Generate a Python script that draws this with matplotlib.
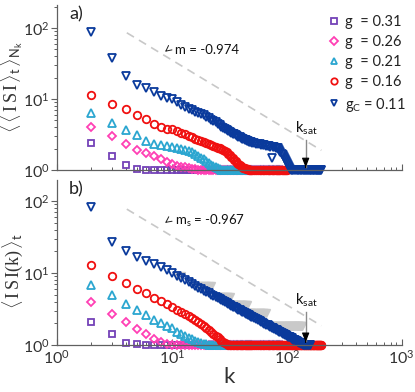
import numpy as np
import matplotlib
matplotlib.use("Agg")
import matplotlib.pyplot as plt

plt.rcParams['font.family'] = ['Lato', 'DejaVu Sans']
plt.rcParams['mathtext.fontset'] = 'custom'
plt.rcParams['mathtext.rm'] = 'Liberation Serif'
plt.rcParams['mathtext.sf'] = 'Lato'
plt.rcParams['mathtext.it'] = 'Lato:italic'

# k grid: every k up to 50, every second k after that
k = np.array(list(range(2, 51)) + list(range(52, 201, 2)))

labels = ['g  = 0.31', 'g  = 0.26', 'g  = 0.21', 'g  = 0.16', r'g$_\mathsf{C}$ = 0.11']
colors = ['#7442b8', '#ff3fb4', '#2ba6d0', '#f01010', '#0a3a9c']
markers = ['s', 'D', '^', 'o', 'v']
msizes = [4.4, 4.4, 5.4, 5.4, 5.8]

# panel a) <<ISI>_t>_Nk : decaying head values, then flat at 1 up to k_end
purple_a = [2.38, 1.57, 1.2, 1.04, 1.02, 1.01]
pink_a = [4.07, 3.04, 2.32, 1.95, 1.72, 1.57, 1.43, 1.31, 1.22, 1.16, 1.12, 1.09,
          1.06, 1.04, 1.03, 1.02, 1.01]
cyan_a = [6.3, 4.63, 3.66, 3.11, 2.6, 2.34, 2.25, 2.2, 2.1, 2.05, 2.0, 1.92, 1.85,
          1.78, 1.68, 1.58, 1.5, 1.42, 1.35, 1.28, 1.2, 1.15, 1.1, 1.06, 1.03, 1.01]
red_a = [11.4, 8.5, 7.2, 5.95, 5.2, 4.5, 4.05, 3.8, 3.75, 3.55, 3.35, 3.2, 3.05, 2.9,
         2.78, 2.68, 2.58, 2.5, 2.42, 2.34, 2.28, 2.22, 2.15, 2.08, 2.02, 1.96, 1.9,
         1.85, 1.78, 1.7, 1.62, 1.54, 1.47, 1.4, 1.33, 1.27, 1.22, 1.18, 1.14, 1.11,
         1.08, 1.06, 1.05, 1.04, 1.03, 1.02, 1.01]
blue_a = [87, 38, 21, 15.7, 14.4, 12.7, 11.0, 10.5, 9.9, 9.0, 8.2, 7.7, 7.3, 6.95,
          6.65, 6.4, 6.15, 5.9, 5.65, 5.4, 5.15, 4.9, 4.7, 4.5, 4.3, 4.1, 3.95, 3.8,
          3.7, 3.58, 3.46, 3.36, 3.27, 3.18, 3.1, 3.02, 2.95, 2.89, 2.83, 2.77, 2.72,
          2.67, 2.64, 2.6, 2.56, 2.53, 2.5, 2.47, 2.44,
          2.4, 2.37, 2.34, 2.31, 2.28, 2.25, 2.23, 2.21, 2.19, 2.17, 2.15, 1.46, 2.11,
          2.09, 2.07, 2.06, 2.02, 1.93, 1.8, 1.7, 1.62, 1.52, 1.42, 1.34, 1.26, 1.17,
          1.09, 1.04, 1.01]
end_a = [40, 90, 90, 100, 200]

# panel b) <ISI(k)>_t
purple_b = [2.07, 1.41, 1.05, 1.02]
pink_b = [3.92, 2.69, 2.07, 1.67, 1.41, 1.21, 1.09, 1.03, 1.01]
cyan_b = [6.8, 4.95, 3.71, 3.06, 2.61, 2.22, 2.0, 1.84, 1.7, 1.53, 1.42, 1.33, 1.26,
          1.2, 1.15, 1.11, 1.07, 1.04, 1.02, 1.01]
red_b = [12.9, 9.1, 7.2, 6.0, 5.2, 4.55, 4.05, 3.65, 3.35, 3.1, 2.9, 2.72, 2.53, 2.36,
         2.2, 2.06, 1.93, 1.82, 1.72, 1.62, 1.52, 1.43, 1.35, 1.28, 1.21, 1.15, 1.1,
         1.06, 1.03, 1.01]
blue_b = [83, 27, 20, 16.9, 14.7, 13.3, 12.0, 10.9,
          9.9, 9.11, 8.45, 7.88, 7.39, 6.96, 6.58, 6.24, 5.94, 5.66, 5.42, 5.19, 4.99,
          4.8, 4.62, 4.46, 4.31, 4.17, 4.04, 3.92, 3.81, 3.7, 3.6, 3.5, 3.41, 3.33,
          3.25, 3.17, 3.1, 3.03, 2.96, 2.9, 2.84, 2.78, 2.73, 2.68, 2.62, 2.58, 2.53,
          2.48, 2.44,
          2.36, 2.28, 2.21, 2.14, 2.08, 2.02, 1.97, 1.92, 1.87, 1.82, 1.78, 1.74, 1.7,
          1.66, 1.62, 1.59, 1.55, 1.52, 1.49, 1.46, 1.44, 1.41, 1.38, 1.36, 1.34, 1.31,
          1.29, 1.27, 1.25, 1.23, 1.21, 1.19, 1.17, 1.16, 1.14, 1.12, 1.11, 1.09, 1.08,
          1.06, 1.05, 1.035, 1.02, 1.01]
end_b = [40, 90, 90, 200, 160]

# gray step levels behind g_C in panel b: (k from, k to, value)
gray_steps = [(11, 12, 8.94), (16, 22, 6.5), (24, 32, 4.64), (32, 45, 3.59),
              (44, 67, 2.74), (70, 137, 1.84)]

# fitted slopes (dashed guides)
fit_k = [4.06, 200]
fit_a = [86, 1.9]
fit_b = [77, 1.85]
k_sat = 146


def series(head, k_end):
    n = np.sum(k <= k_end)
    y = np.ones(n)
    y[:len(head)] = head
    return k[:n], y


fig = plt.figure(figsize=(4.15, 3.92), dpi=100)
ax_a = fig.add_axes([0.137, 0.566, 0.831, 0.421])
ax_b = fig.add_axes([0.137, 0.12, 0.831, 0.421])

for ax in (ax_a, ax_b):
    ax.set_xscale('log')
    ax.set_yscale('log')
    ax.set_xlim(1, 1000)
    for s in ('top', 'right'):
        ax.spines[s].set_visible(False)
    for s in ('left', 'bottom'):
        ax.spines[s].set_color('#606060')
        ax.spines[s].set_linewidth(0.9)
    ax.tick_params(axis='y', which='both', direction='out', colors='#606060',
                   labelcolor='#333333', labelsize=11.5, pad=1)
    ax.tick_params(axis='x', which='both', direction='in', colors='#606060',
                   labelcolor='#333333', labelsize=11.5, pad=3)
    ax.tick_params(which='major', length=4, width=0.8)
    ax.tick_params(which='minor', length=2.5, width=0.7)

ax_a.set_ylim(1, 211)
ax_b.set_ylim(1, 196)
ax_a.set_xticklabels([])

# panel a
heads_a = [purple_a, pink_a, cyan_a, red_a, blue_a]
for head, k_end, c, m, ms, lab in zip(heads_a, end_a, colors, markers, msizes, labels):
    kk, yy = series(head, k_end)
    ax_a.plot(kk, yy, ls='none', marker=m, ms=ms, mfc='none', mec=c, mew=1.3,
              label=lab, clip_on=False)

ax_a.plot(fit_k, fit_a, ls=(0, (5, 3.5)), color='#c8c8c8', lw=1.2, zorder=1)
ax_a.annotate('', xy=(8.35, 44), xytext=(9.4, 51),
              arrowprops=dict(arrowstyle='->', lw=0.7, color='#222222'))
ax_a.text(10.6, 49, 'm = -0.974', fontsize=9.5, va='center', color='#111111')

# panel b
for kk0, kk1, v in gray_steps:
    kk = k[(k >= kk0) & (k <= kk1)]
    ax_b.plot(kk, np.full(len(kk), v), ls='none', marker='v', ms=5.8,
              mfc='#c9c9c9', mec='#c9c9c9', mew=1.0, zorder=1.5)

heads_b = [purple_b, pink_b, cyan_b, red_b, blue_b]
for head, k_end, c, m, ms in zip(heads_b, end_b, colors, markers, msizes):
    kk, yy = series(head, k_end)
    ax_b.plot(kk, yy, ls='none', marker=m, ms=ms, mfc='none', mec=c, mew=1.3,
              clip_on=False)

ax_b.plot(fit_k, fit_b, ls=(0, (5, 3.5)), color='#c8c8c8', lw=1.2, zorder=1)
ax_b.annotate('', xy=(8.35, 47), xytext=(9.4, 54),
              arrowprops=dict(arrowstyle='->', lw=0.7, color='#222222'))
ax_b.text(10.6, 52, r'm$_\mathsf{s}$ = -0.967', fontsize=9.5, va='center',
          color='#111111')

# k_sat markers
for ax, top, ytxt in ((ax_a, 2.64, 2.9), (ax_b, 2.9, 3.2)):
    ax.plot([k_sat, k_sat], [top, 1.12], color='#8a8a8a', lw=1.0, zorder=6,
            clip_on=False)
    ax.annotate('', xy=(k_sat, 1.0), xytext=(k_sat, 1.2),
                arrowprops=dict(arrowstyle='-|>,head_length=0.55,head_width=0.22',
                                color='black', lw=0.8), zorder=7)
    ax.text(k_sat * 1.02, ytxt, r'k$_\mathsf{sat}$', fontsize=10.5, ha='center',
            va='bottom', color='#111111')

ax_a.text(0.035, 0.99, 'a)', transform=ax_a.transAxes, fontsize=13,
          va='top', ha='left', color='#222222')
ax_b.text(0.035, 0.99, 'b)', transform=ax_b.transAxes, fontsize=13,
          va='top', ha='left', color='#222222')

ax_a.set_ylabel(r'$\langle\,\langle\, \mathrm{I\,S\,I}\,\rangle_{\mathsf{t}}\,\rangle_{\mathsf{N}_{\mathsf{k}}}$',
                fontsize=13, color='#333333')
ax_b.set_ylabel(r'$\langle\, \mathrm{I\,S\,I(k)}\,\rangle_{\mathsf{t}}$',
                fontsize=13, color='#333333')
ax_a.yaxis.set_label_coords(-0.093, 0.5)
ax_b.yaxis.set_label_coords(-0.093, 0.45)
ax_b.set_xlabel('k', fontsize=16, color='#333333', labelpad=0)

ax_a.legend(loc='upper right', bbox_to_anchor=(1.03, 0.975), frameon=False,
            fontsize=10.5, handlelength=0.6, handletextpad=0.5, labelspacing=0.42,
            borderaxespad=0.0, labelcolor='#222222', markerscale=0.85)

fig.savefig('out.png', dpi=100)
